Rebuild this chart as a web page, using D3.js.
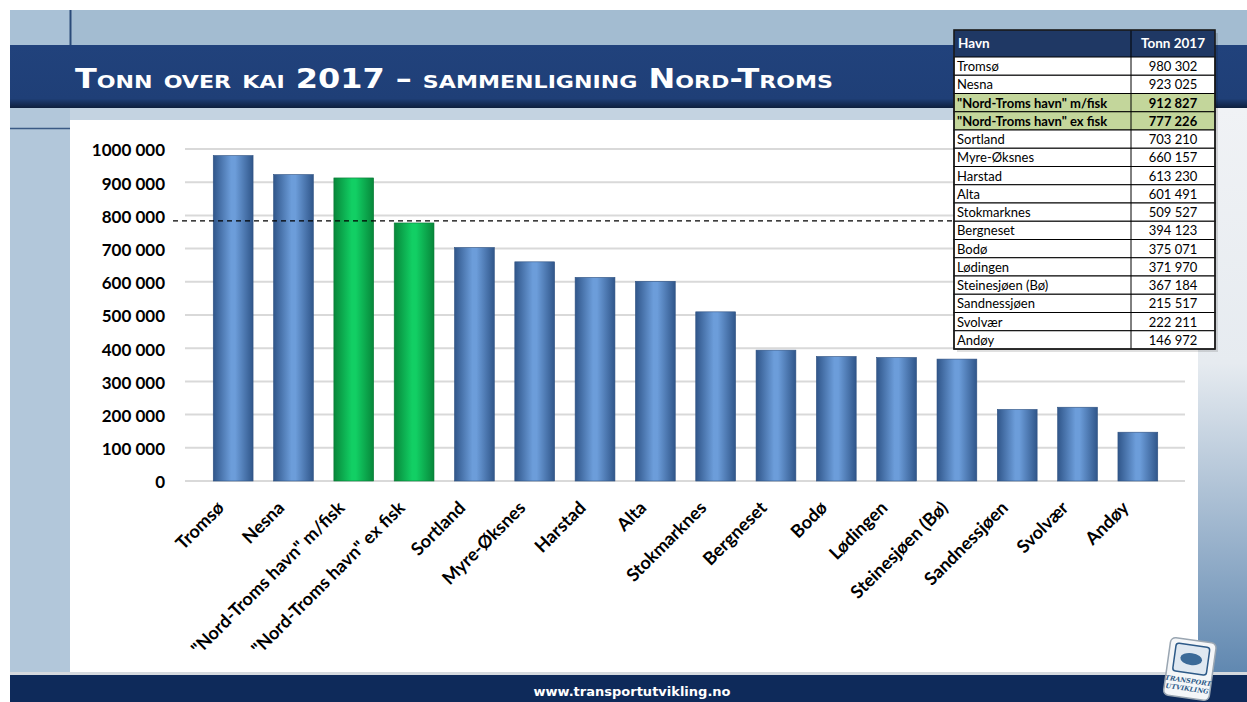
<!DOCTYPE html>
<html>
<head>
<meta charset="utf-8">
<script src="https://cdn.jsdelivr.net/npm/d3@7"></script>
<style>
  body { margin:0; background:#fff; }
  svg { display:block; }
  .ylab { font-family: Lato, "Open Sans", sans-serif; font-weight:bold; font-size:17px; fill:#000; }
  .xlab { font-family: Lato, "Open Sans", sans-serif; font-weight:bold; font-size:18px; fill:#000; }
  .tcell { font-family: Lato, "Open Sans", sans-serif; font-size:13px; fill:#000; }
  .thead { font-family: Lato, "Open Sans", sans-serif; font-size:13.5px; font-weight:bold; fill:#fff; }
</style>
</head>
<body>
<svg id="chart" width="1247" height="702"></svg>
<script>
// ---- data ----
var havn = ["Tromsø", "Nesna", "\"Nord-Troms havn\" m/fisk", "\"Nord-Troms havn\" ex fisk",
    "Sortland", "Myre-Øksnes", "Harstad", "Alta", "Stokmarknes", "Bergneset", "Bodø",
    "Lødingen", "Steinesjøen (Bø)", "Sandnessjøen", "Svolvær", "Andøy"];
var tonn = [980302, 923025, 912827, 777226, 703210, 660157, 613230, 601491, 509527,
    394123, 375071, 371970, 367184, 215517, 222211, 146972];
var nordTroms = [false, false, true, true, false, false, false, false, false,
    false, false, false, false, false, false, false];
var yTicks = [0, 100000, 200000, 300000, 400000, 500000, 600000, 700000, 800000, 900000, 1000000];
var refLine = 777226;
var titleText = "Tonn over kai 2017 – sammenligning Nord-Troms";
var footerText = "www.transportutvikling.no";

var svg = d3.select("#chart");
var defs = svg.append("defs");

function cylGrad(id, edge, mid){
    var g = defs.append("linearGradient").attr("id", id)
        .attr("x1", "0%").attr("x2", "100%").attr("y1", "0%").attr("y2", "0%");
    g.append("stop").attr("offset", "0%").attr("stop-color", edge);
    g.append("stop").attr("offset", "45%").attr("stop-color", mid);
    g.append("stop").attr("offset", "55%").attr("stop-color", mid);
    g.append("stop").attr("offset", "100%").attr("stop-color", edge);
}
cylGrad("gBlue", "#30568a", "#6c9dda");
cylGrad("gGreen", "#07873a", "#12cf64");

var rg = defs.append("linearGradient").attr("id", "gRight")
    .attr("x1", "0").attr("x2", "0").attr("y1", "0").attr("y2", "1");
rg.append("stop").attr("offset", "0%").attr("stop-color", "#f0f2f5");
rg.append("stop").attr("offset", "45%").attr("stop-color", "#e6ebf0");
rg.append("stop").attr("offset", "100%").attr("stop-color", "#5f87b0");

var tb = defs.append("linearGradient").attr("id", "gTitle")
    .attr("x1", "0").attr("x2", "0").attr("y1", "0").attr("y2", "1");
tb.append("stop").attr("offset", "0%").attr("stop-color", "#21427c");
tb.append("stop").attr("offset", "85%").attr("stop-color", "#1f3f77");
tb.append("stop").attr("offset", "100%").attr("stop-color", "#0e1f3d");

// ---- slide background ----
svg.append("rect").attr("x", 10).attr("y", 10).attr("width", 1237).attr("height", 692).attr("fill", "#fff");
svg.append("rect").attr("x", 10).attr("y", 10).attr("width", 1237).attr("height", 35).attr("fill", "#a3bcd1");
svg.append("rect").attr("x", 10).attr("y", 10).attr("width", 60).attr("height", 35).attr("fill", "#a9c1d6");
svg.append("line").attr("x1", 70.5).attr("x2", 70.5).attr("y1", 10).attr("y2", 45)
    .attr("stroke", "#2a4a78").attr("stroke-width", 2);
svg.append("rect").attr("x", 10).attr("y", 108).attr("width", 1237).attr("height", 12).attr("fill", "#c4d3e1");
svg.append("rect").attr("x", 10).attr("y", 108).attr("width", 60).attr("height", 567).attr("fill", "#b2c7da");
svg.append("line").attr("x1", 10).attr("x2", 70).attr("y1", 128.5).attr("y2", 128.5)
    .attr("stroke", "#3a5a85").attr("stroke-width", 1.5);
svg.append("rect").attr("x", 1198).attr("y", 108).attr("width", 49).attr("height", 567).attr("fill", "url(#gRight)");
svg.append("rect").attr("x", 70).attr("y", 120).attr("width", 1128).attr("height", 552).attr("fill", "#fff");
svg.append("rect").attr("x", 10).attr("y", 45).attr("width", 1237).attr("height", 63).attr("fill", "url(#gTitle)");
svg.append("rect").attr("x", 10).attr("y", 672).attr("width", 1237).attr("height", 3).attr("fill", "#d5d9de");
svg.append("rect").attr("x", 10).attr("y", 675).attr("width", 1237).attr("height", 27).attr("fill", "#0e2a5a");

svg.append("text")
    .attr("x", 75).attr("y", 88)
    .attr("fill", "#fff")
    .style("font-family", "'DejaVu Sans Condensed', 'DejaVu Sans', sans-serif")
    .style("font-weight", "bold")
    .style("font-size", "26px")
    .style("font-variant", "small-caps")
    .attr("textLength", 758)
    .attr("lengthAdjust", "spacingAndGlyphs")
    .text(titleText);

svg.append("text")
    .attr("x", 632).attr("y", 696)
    .attr("text-anchor", "middle")
    .attr("fill", "#fff")
    .style("font-family", "'DejaVu Sans', Verdana, sans-serif")
    .style("font-weight", "bold")
    .style("font-size", "13px")
    .text(footerText);

// ---- chart ----
var y = d3.scaleLinear().domain([0, 1000000]).range([481, 149]);
var x = d3.scaleBand().domain(havn).range([203, 1168]).paddingInner(0.34).paddingOuter(0.17);

// Excel style "# ##0" -> only the last thousand group gets a space
var fmt = function(v){
    var s = String(v);
    return s.length > 3 ? s.slice(0, s.length - 3) + " " + s.slice(-3) : s;
};

var grid = svg.append("g");
grid.selectAll("line").data(yTicks).enter().append("line")
    .attr("x1", 185).attr("x2", 1185)
    .attr("y1", function(d){ return y(d); })
    .attr("y2", function(d){ return y(d); })
    .attr("stroke", "#d9d9d9").attr("stroke-width", 2);

var yAxis = svg.append("g").attr("transform", "translate(165,0)")
    .call(d3.axisLeft(y).tickValues(yTicks).tickSize(0).tickPadding(0).tickFormat(fmt));
yAxis.select(".domain").remove();
yAxis.selectAll("text").attr("class", "ylab").attr("dy", "0.4em");

svg.append("g").selectAll("rect").data(havn).enter().append("rect")
    .attr("x", function(d){ return x(d); })
    .attr("width", x.bandwidth())
    .attr("y", function(d, i){ return y(tonn[i]); })
    .attr("height", function(d, i){ return y(0) - y(tonn[i]); })
    .attr("fill", function(d, i){ return nordTroms[i] ? "url(#gGreen)" : "url(#gBlue)"; })
    .attr("stroke", function(d, i){ return nordTroms[i] ? "#0a7a36" : "#2e5080"; })
    .attr("stroke-width", 0.6);

svg.append("line")
    .attr("x1", 173).attr("x2", 1185)
    .attr("y1", y(refLine) - 2).attr("y2", y(refLine) - 2)
    .attr("stroke", "#000").attr("stroke-width", 1.3)
    .attr("stroke-dasharray", "5,4");

var xAxis = svg.append("g").attr("transform", "translate(0,481)")
    .call(d3.axisBottom(x).tickSize(0).tickPadding(0));
xAxis.select(".domain").remove();
xAxis.selectAll("text")
    .attr("class", "xlab")
    .attr("text-anchor", "end")
    .attr("dy", null).attr("y", null)
    .attr("transform", "translate(-8,28) rotate(-45)");

// ---- table ----
var tx = 954, tw = 261, tc = 1131, ty0 = 30, th = 27, rh = 18.25;
var tbl = svg.append("g");
tbl.append("rect").attr("x", tx + 3).attr("y", ty0 + 3).attr("width", tw).attr("height", th + rh * havn.length)
    .attr("fill", "#000").attr("opacity", 0.12);
tbl.append("rect").attr("x", tx).attr("y", ty0).attr("width", tw).attr("height", th).attr("fill", "#1f3864");
tbl.append("text").attr("class", "thead").attr("x", tx + 4).attr("y", ty0 + 18).text("Havn");
tbl.append("text").attr("class", "thead").attr("x", (tc + tx + tw) / 2).attr("y", ty0 + 18)
    .attr("text-anchor", "middle").text("Tonn 2017");

var rows = tbl.selectAll("g.row").data(havn).enter().append("g")
    .attr("transform", function(d, i){ return "translate(0," + (ty0 + th + i * rh) + ")"; });
rows.append("rect").attr("x", tx).attr("width", tw).attr("height", rh)
    .attr("fill", function(d, i){ return nordTroms[i] ? "#c3d69b" : "#fff"; })
    .attr("stroke", "#000").attr("stroke-width", 1);
rows.append("text").attr("class", "tcell").attr("x", tx + 3).attr("y", 14)
    .style("font-weight", function(d, i){ return nordTroms[i] ? "bold" : "normal"; })
    .text(function(d){ return d; });
rows.append("text").attr("class", "tcell").attr("x", (tc + tx + tw) / 2).attr("y", 14)
    .attr("text-anchor", "middle")
    .style("font-weight", function(d, i){ return nordTroms[i] ? "bold" : "normal"; })
    .text(function(d, i){ return fmt(tonn[i]); });
tbl.append("line").attr("x1", tc).attr("x2", tc).attr("y1", ty0).attr("y2", ty0 + th + rh * havn.length)
    .attr("stroke", "#000").attr("stroke-width", 1);
tbl.append("rect").attr("x", tx).attr("y", ty0).attr("width", tw).attr("height", th + rh * havn.length)
    .attr("fill", "none").attr("stroke", "#1a1a1a").attr("stroke-width", 1.6);

// ---- logo ----
var logo = svg.append("g").attr("transform", "translate(1190,668) rotate(8)");
logo.append("rect").attr("x", -23).attr("y", -28).attr("width", 46).attr("height", 58).attr("rx", 5)
    .attr("fill", "#f4f6f8").attr("stroke", "#9aa6b2").attr("stroke-width", 1.5);
logo.append("rect").attr("x", -17).attr("y", -23).attr("width", 34).attr("height", 28).attr("rx", 3)
    .attr("fill", "#dfe8f1").attr("stroke", "#2d5a88").attr("stroke-width", 1.5);
logo.append("ellipse").attr("cx", 0).attr("cy", -9).attr("rx", 11).attr("ry", 6)
    .attr("fill", "#3b6a98");
logo.append("text").attr("x", 0).attr("y", 15).attr("text-anchor", "middle")
    .style("font-family", "'DejaVu Serif', serif").style("font-style", "italic").style("font-weight", "bold")
    .style("font-size", "6.5px").attr("fill", "#2d5a88").text("TRANSPORT");
logo.append("text").attr("x", 0).attr("y", 23).attr("text-anchor", "middle")
    .style("font-family", "'DejaVu Serif', serif").style("font-style", "italic").style("font-weight", "bold")
    .style("font-size", "6.5px").attr("fill", "#2d5a88").text("UTVIKLING");
</script>
</body>
</html>
